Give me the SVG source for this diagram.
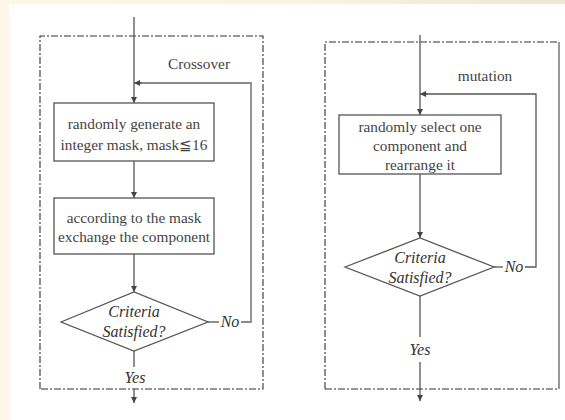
<svg xmlns="http://www.w3.org/2000/svg" width="565" height="420" viewBox="0 0 565 420">
  <defs>
    <linearGradient id="topStrip" x1="0" y1="0" x2="1" y2="0">
      <stop offset="0" stop-color="#fef6e7"/>
      <stop offset="0.55" stop-color="#fbf1df"/>
      <stop offset="1" stop-color="#f0e6d3"/>
    </linearGradient>
    <marker id="arrow" viewBox="0 0 10 10" refX="10" refY="5" markerWidth="6" markerHeight="6" orient="auto" markerUnits="userSpaceOnUse">
      <path d="M0,0 L10,5 L0,10 z" fill="#444"/>
    </marker>
    <style>
      .frame { fill: none; stroke: #333; stroke-width: 1.1; stroke-dasharray: 7 2 2 2; }
      .edge { fill: none; stroke: #555; stroke-width: 1.3; }
      .loop { fill: none; stroke: #8a8a8a; stroke-width: 1.8; }
      .box { fill: #fff; stroke: #555; stroke-width: 1.3; }
      .txt { font-family: "Liberation Serif", "Times New Roman", serif; font-size: 15.3px; fill: #444; text-anchor: middle; }
      .it { font-family: "Liberation Serif", "Times New Roman", serif; font-size: 16px; font-style: italic; fill: #333; text-anchor: middle; }
    </style>
  </defs>

  <!-- page background -->
  <rect x="0" y="0" width="565" height="420" fill="#fef6e7"/>
  <rect x="0" y="0" width="565" height="5" fill="url(#topStrip)"/>
  <rect x="9" y="4" width="556" height="416" fill="#fff"/>

  <!-- dashed process frames -->
  <g id="frame-crossover">
    <path class="frame" d="M40,389 L40,36 L263,36 L263,389 Z"/>
  </g>
  <g id="frame-mutation">
    <path class="frame" d="M325,389 L325,42 L559,42"/>
    <path class="frame" d="M325,389 L559,389"/>
    <line x1="559" y1="42" x2="559" y2="389" stroke="#999" stroke-width="2"/>
  </g>

  <!-- connectors -->
  <g id="connectors">
    <!-- crossover -->
    <line class="edge" x1="134" y1="17" x2="134" y2="103" marker-end="url(#arrow)"/>
    <line class="edge" x1="134" y1="161" x2="134" y2="198" marker-end="url(#arrow)"/>
    <line class="edge" x1="134" y1="254" x2="134" y2="292" marker-end="url(#arrow)"/>
    <line class="edge" x1="134" y1="351" x2="134" y2="367"/>
    <line class="edge" x1="134" y1="389" x2="134" y2="403" marker-end="url(#arrow)"/>
    <line class="edge" x1="208" y1="322" x2="219" y2="322"/>
    <polyline class="loop" points="241,322 251,322 251,83 140,83"/>
    <line class="edge" x1="142" y1="83" x2="134" y2="83" marker-end="url(#arrow)"/>
    <!-- mutation -->
    <line class="edge" x1="420" y1="35" x2="420" y2="115" marker-end="url(#arrow)"/>
    <line class="edge" x1="420" y1="174" x2="420" y2="238" marker-end="url(#arrow)"/>
    <line class="edge" x1="420" y1="296" x2="420" y2="337"/>
    <line class="edge" x1="420" y1="362" x2="420" y2="401" marker-end="url(#arrow)"/>
    <line class="edge" x1="494" y1="267" x2="503" y2="267"/>
    <polyline class="edge" points="525,267 536,267 536,94 426,94"/>
    <line class="edge" x1="428" y1="94" x2="420" y2="94" marker-end="url(#arrow)"/>
  </g>

  <!-- crossover nodes -->
  <g id="label-crossover">
    <text class="txt" x="199" y="69">Crossover</text>
  </g>
  <g id="node-generate-mask">
    <rect class="box" x="54" y="103" width="160" height="58"/>
    <text class="txt" x="134" y="129">randomly generate an</text>
    <text class="txt" x="134" y="150">integer mask, mask≦16</text>
  </g>
  <g id="node-exchange">
    <rect class="box" x="54" y="198" width="160" height="56"/>
    <text class="txt" x="134" y="223">according to the mask</text>
    <text class="txt" x="134" y="242">exchange the component</text>
  </g>
  <g id="node-criteria-1">
    <polygon class="box" points="61,322 134,292 208,322 134,351"/>
    <text class="it" x="134" y="317">Criteria</text>
    <text class="it" x="134" y="337">Satisfied?</text>
  </g>
  <g id="label-no-1">
    <text class="it" x="230" y="327">No</text>
  </g>
  <g id="label-yes-1">
    <text class="it" x="135" y="383">Yes</text>
  </g>

  <!-- mutation nodes -->
  <g id="label-mutation">
    <text class="txt" x="485" y="81">mutation</text>
  </g>
  <g id="node-select">
    <rect class="box" x="339" y="115" width="162" height="59"/>
    <text class="txt" x="420" y="132">randomly select one</text>
    <text class="txt" x="420" y="151">component and</text>
    <text class="txt" x="420" y="170">rearrange it</text>
  </g>
  <g id="node-criteria-2">
    <polygon class="box" points="345,267 420,238 494,267 420,296"/>
    <text class="it" x="420" y="263">Criteria</text>
    <text class="it" x="420" y="283">Satisfied?</text>
  </g>
  <g id="label-no-2">
    <text class="it" x="514" y="272">No</text>
  </g>
  <g id="label-yes-2">
    <text class="it" x="420" y="355">Yes</text>
  </g>
</svg>
